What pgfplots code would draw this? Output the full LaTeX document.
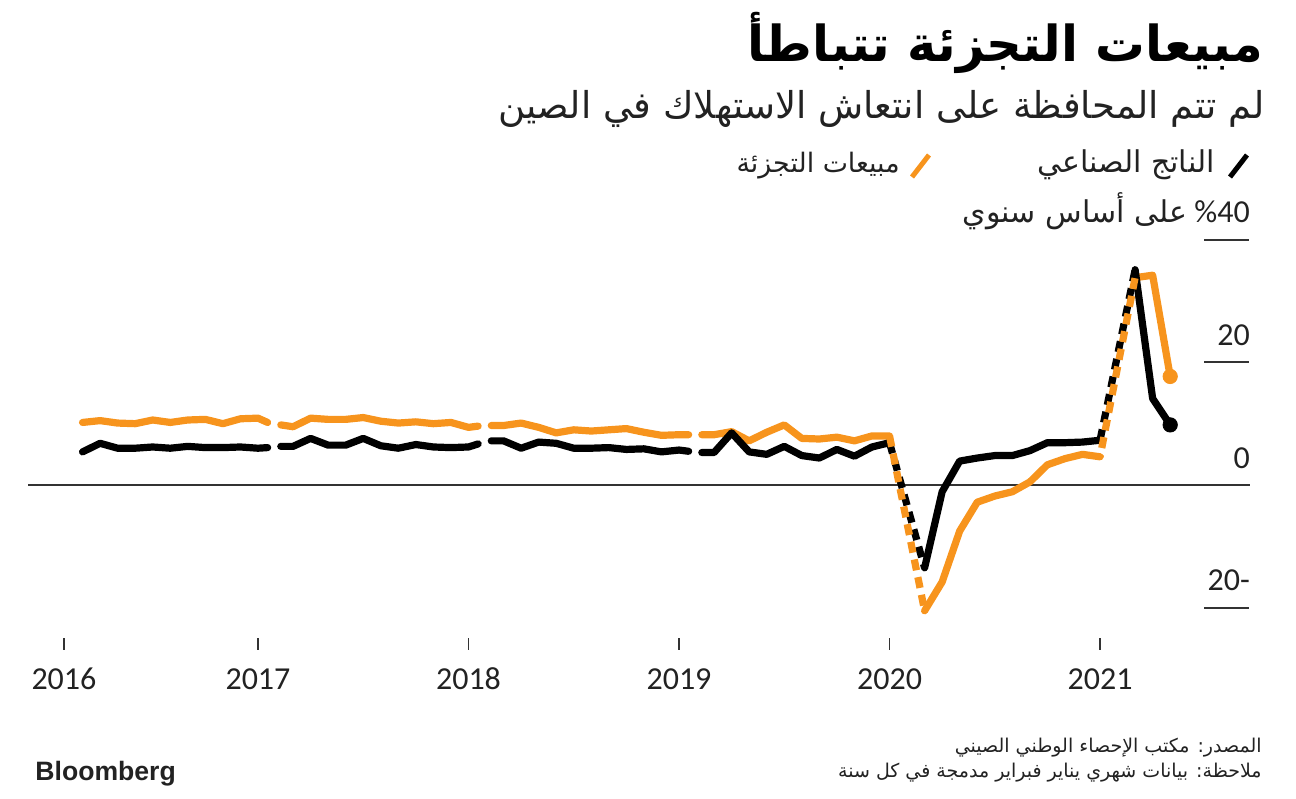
\documentclass[border=0pt]{standalone}
\usepackage{fontspec}
\usepackage{pgfplots}
\pgfplotsset{compat=1.18}
\TeXXeTstate=1
\setmainfont{Carlito}
\newfontfamily\arabicfont[Script=Arabic]{DejaVu Sans}
\newfontfamily\logofont{Liberation Sans}
\definecolor{bborange}{RGB}{247,148,29}
\definecolor{txt}{RGB}{34,34,34}
\definecolor{gridc}{RGB}{51,51,51}

\begin{document}
\begin{tikzpicture}
\path[use as bounding box] (0,0) rectangle (648pt,399pt);
\begin{axis}[
  at={(14pt,77.05pt)}, anchor=south west,
  scale only axis, width=611pt, height=214.4pt,
  xmin=-1.11, xmax=68.55, ymin=-25.9, ymax=44,
  axis y line=none, axis x line*=bottom,
  x axis line style={draw=none},
  xtick={0.94,12,24,36,48,60},
  xticklabels={2016,2017,2018,2019,2020,2021},
  tick align=center, major tick length=6pt,
  xtick style={gridc, line width=0.6pt},
  xticklabel style={font=\fontsize{16}{16}\selectfont, text=txt, anchor=base, yshift=-20pt},
  ytick=\empty,
  clip=false,
  line join=round,
]
% zero line and short grid marks on the right
\draw[gridc, line width=0.8pt] (axis cs:-1.11,0) -- (axis cs:68.55,0);
\draw[gridc, line width=1pt] (axis cs:65.93,40) -- (axis cs:68.5,40);
\draw[gridc, line width=1pt] (axis cs:65.93,20) -- (axis cs:68.5,20);
\draw[gridc, line width=1pt] (axis cs:65.93,-20) -- (axis cs:68.5,-20);
\node[anchor=base east, inner sep=0, yshift=8.5pt, text=txt, font=\fontsize{16}{16}\selectfont] at (axis cs:68.56,20) {20};
\node[anchor=base east, inner sep=0, yshift=8.5pt, text=txt, font=\fontsize{16}{16}\selectfont] at (axis cs:68.56,0) {0};
\node[anchor=base east, inner sep=0, yshift=8.5pt, text=txt, font=\fontsize{16}{16}\selectfont] at (axis cs:68.56,-20) {20-};
\node[anchor=base east, inner sep=0, yshift=8.5pt, text=txt, font=\fontsize{16}{16}\selectfont] at (axis cs:68.56,40)
  {{\arabicfont\fontsize{15}{15}\selectfont\beginR على أساس سنوي\endR}\ \%40};

% retail sales (orange), solid per year
\addplot[bborange, line width=3.6pt, line cap=round] coordinates {
  (2,10.2)(3,10.5)(4,10.1)(5,10.0)(6,10.6)(7,10.2)(8,10.6)(9,10.7)(10,10.0)(11,10.8)(12,10.9)(12.55,10.2)};
\addplot[bborange, line width=3.6pt, line cap=round] coordinates {
  (13.3,9.8)(14,9.5)(15,10.9)(16,10.7)(17,10.7)(18,11.0)(19,10.4)(20,10.1)(21,10.3)(22,10.0)(23,10.2)(24,9.4)(24.55,9.6)};
\addplot[bborange, line width=3.6pt, line cap=round] coordinates {
  (25.3,9.7)(26,9.7)(27,10.1)(28,9.4)(29,8.5)(30,9.0)(31,8.8)(32,9.0)(33,9.2)(34,8.6)(35,8.1)(36,8.2)(36.55,8.2)};
\addplot[bborange, line width=3.6pt, line cap=round] coordinates {
  (37.3,8.2)(38,8.2)(39,8.7)(40,7.2)(41,8.6)(42,9.8)(43,7.6)(44,7.5)(45,7.8)(46,7.2)(47,8.0)(48,8.0)};
\addplot[bborange, line width=3.6pt, line cap=round] coordinates {
  (50,-20.5)(51,-15.8)(52,-7.5)(53,-2.8)(54,-1.8)(55,-1.1)(56,0.5)(57,3.3)(58,4.3)(59,5.0)(60,4.6)};
\addplot[bborange, line width=3.6pt, line cap=round] coordinates {
  (62,33.8)(63,34.2)(64,17.7)};

% industrial output (black), solid per year
\addplot[black, line width=3.6pt, line cap=round] coordinates {
  (2,5.4)(3,6.8)(4,6.0)(5,6.0)(6,6.2)(7,6.0)(8,6.3)(9,6.1)(10,6.1)(11,6.2)(12,6.0)(12.55,6.1)};
\addplot[black, line width=3.6pt, line cap=round] coordinates {
  (13.3,6.3)(14,6.3)(15,7.6)(16,6.5)(17,6.5)(18,7.6)(19,6.4)(20,6.0)(21,6.6)(22,6.2)(23,6.1)(24,6.2)(24.55,6.7)};
\addplot[black, line width=3.6pt, line cap=round] coordinates {
  (25.3,7.2)(26,7.2)(27,6.0)(28,7.0)(29,6.8)(30,6.0)(31,6.0)(32,6.1)(33,5.8)(34,5.9)(35,5.4)(36,5.7)(36.55,5.5)};
\addplot[black, line width=3.6pt, line cap=round] coordinates {
  (37.3,5.3)(38,5.3)(39,8.5)(40,5.4)(41,5.0)(42,6.3)(43,4.8)(44,4.4)(45,5.8)(46,4.7)(47,6.2)(48,6.9)};
\addplot[black, line width=3.6pt, line cap=round] coordinates {
  (50,-13.5)(51,-1.1)(52,3.9)(53,4.4)(54,4.8)(55,4.8)(56,5.6)(57,6.9)(58,6.9)(59,7.0)(60,7.3)};
\addplot[black, line width=3.6pt, line cap=round] coordinates {
  (62,35.1)(63,14.1)(64,9.8)};

% combined Jan-Feb: dashed links
\addplot[black, line width=3.6pt, dash pattern=on 5.5pt off 3.5pt] coordinates {(48,6.9)(50,-13.5)};
\addplot[black, line width=3.6pt, dash pattern=on 5.5pt off 3.5pt] coordinates {(60,7.3)(62,35.1)};
\addplot[bborange, line width=3.6pt, dash pattern=on 5.5pt off 3.5pt] coordinates {(48,8.0)(50,-20.5)};
\addplot[bborange, line width=3.6pt, dash pattern=on 5.5pt off 3.5pt, dash phase=4.5pt] coordinates {(60,4.6)(62,33.8)};

% end markers
\addplot[black, only marks, mark=*, mark size=3.6pt] coordinates {(64,9.8)};
\addplot[bborange, only marks, mark=*, mark size=3.6pt] coordinates {(64,17.7)};
\end{axis}

% title block
\node[anchor=base east, inner sep=0] at (632pt,368pt)
  {\arabicfont\bfseries\fontsize{24.8}{24.8}\selectfont\beginR مبيعات التجزئة تتباطأ\endR};
\node[anchor=base east, inner sep=0, text=txt] at (632.5pt,339.5pt)
  {\arabicfont\fontsize{18.5}{18.5}\selectfont\beginR لم تتم المحافظة على انتعاش الاستهلاك في الصين\endR};

% legend
\draw[black, line width=2.5pt] (615pt,310.5pt) -- (623.5pt,321.5pt);
\node[anchor=base east, inner sep=0, text=txt] at (607.5pt,312.5pt)
  {\arabicfont\fontsize{15}{15}\selectfont\beginR الناتج الصناعي\endR};
\draw[bborange, line width=2.5pt] (456pt,310.5pt) -- (464.5pt,321.5pt);
\node[anchor=base east, inner sep=0, text=txt] at (450pt,312.5pt)
  {\arabicfont\fontsize{13.4}{13.4}\selectfont\beginR مبيعات التجزئة\endR};

% footer
\node[anchor=base east, inner sep=0, text=txt] at (631pt,23pt)
  {\arabicfont\fontsize{9.5}{9.5}\selectfont\beginR المصدر: مكتب الإحصاء الوطني الصيني\endR};
\node[anchor=base east, inner sep=0, text=txt] at (631pt,10pt)
  {\arabicfont\fontsize{9.5}{9.5}\selectfont\beginR ملاحظة: بيانات شهري يناير فبراير مدمجة في كل سنة\endR};
\node[anchor=base west, inner sep=0, text=txt] at (17.5pt,9pt)
  {\logofont\bfseries\fontsize{13.3}{13.3}\selectfont Bloomberg};
\end{tikzpicture}
\end{document}
